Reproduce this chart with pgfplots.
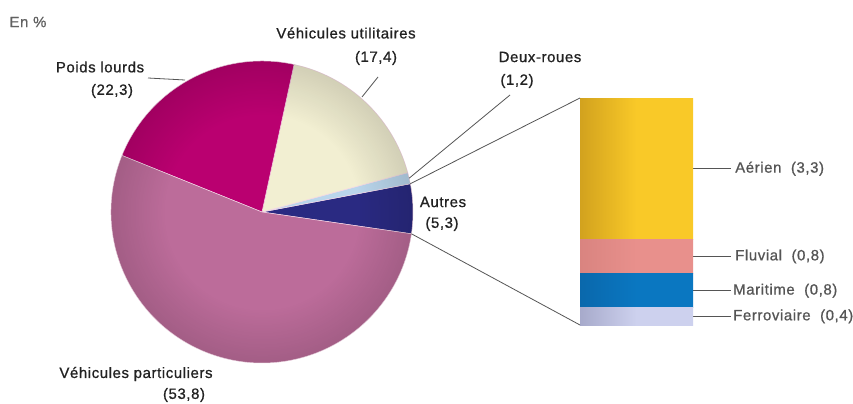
\documentclass[border=0pt]{standalone}
\usepackage{pgfplots}
\pgfplotsset{compat=1.18}
\usepackage{pgfplotstable}
\usepackage{fontspec}
\setmainfont{Liberation Sans}[LetterSpace=4, FakeBold=0.8]
\usetikzlibrary{fadings}

\definecolor{txt}{HTML}{222222}
\definecolor{lead}{HTML}{555555}
\definecolor{vp}{HTML}{BC6C9A}
\definecolor{pl}{HTML}{BA0070}
\definecolor{vu}{HTML}{F2EFD2}
\definecolor{dr}{HTML}{BAD6EC}
\definecolor{au}{HTML}{2A2A82}
\definecolor{edge}{HTML}{F4D6E6}
\definecolor{aer}{HTML}{F9C928}
\definecolor{aerd}{HTML}{D2A21E}
\definecolor{flu}{HTML}{E8908C}
\definecolor{flud}{HTML}{D98480}
\definecolor{mar}{HTML}{0A77C1}
\definecolor{mard}{HTML}{0A68AC}
\definecolor{fer}{HTML}{CDD1EE}
\definecolor{ferd}{HTML}{A7AACB}

% Transport CO2 shares (%), counter-clockwise from the right
\pgfplotstableread{
name value col
Autres 5.3 au
Deux 1.2 dr
Util 17.4 vu
Lourds 22.3 pl
Part 53.8 vp
}\piedata

% radial darkening towards the rim of the pie
\pgfdeclareradialshading{pieglowshade}{\pgfpoint{0bp}{0bp}}{%
  color(0bp)=(pgftransparent!100); color(16bp)=(pgftransparent!100);
  color(50bp)=(pgftransparent!50)}
\pgfdeclarefading{pieglow}{\pgfuseshading{pieglowshade}}

\tikzset{leader/.style={lead, line width=0.8bp}}

\begin{document}
\begin{tikzpicture}[x=1bp, y=1bp, font=\fontsize{15}{18}\selectfont, text=txt]
\path[use as bounding box, fill=white] (0,0) rectangle (853,403);
\node[anchor=west, text=black!62] at (6,381) {En \%};

% ---------------- pie ----------------
\begin{axis}[name=pie, hide axis, scale only axis,
  x=1bp, y=1bp, xmin=-160, xmax=160, ymin=-160, ymax=160,
  at={(262bp,191bp)}, anchor=center, clip=false]
\gdef\cum{-8.3}
\pgfplotsinvokeforeach{0,...,4}{%
  \pgfplotstablegetelem{#1}{value}\of\piedata \let\slv\pgfplotsretval
  \pgfplotstablegetelem{#1}{col}\of\piedata \let\slc\pgfplotsretval
  \pgfmathsetmacro\sla{\cum}%
  \pgfmathsetmacro\slb{\cum+3.6*\slv}%
  \expandafter\xdef\csname angA#1\endcsname{\sla}%
  \expandafter\xdef\csname angB#1\endcsname{\slb}%
  \edef\slice{\noexpand\fill[\slc, draw=edge, line width=0.5bp]
    (axis cs:0,0) -- (axis cs:{151*cos(\sla)},{151*sin(\sla)})
    arc[start angle=\sla, end angle=\slb, radius=151bp] -- cycle;}%
  \slice
  \xdef\cum{\slb}%
}
\fill[black, path fading=pieglow, fit fading=true] (axis cs:0,0) circle[radius=151bp];

\pgfmathsetmacro\drmid{(\csname angA1\endcsname+\csname angB1\endcsname)/2}
\xdef\drmid{\drmid}
\coordinate (autTop) at (axis cs:{151*cos(\csname angB0\endcsname)},{151*sin(\csname angB0\endcsname)});
\coordinate (autBot) at (axis cs:{151*cos(\csname angA0\endcsname)},{151*sin(\csname angA0\endcsname)});

% leaders and labels
\draw[leader] (axis cs:-114,134) -- (axis cs:-77,132);
\draw[leader] (axis cs:116,135) -- (axis cs:100,115);
\draw[leader] (axis cs:{151*cos(\drmid)},{151*sin(\drmid)}) -- (axis cs:248,117);

\node at (axis cs:-162,145) {Poids lourds};
\node at (axis cs:-150,121) {(22,3)};
\node at (axis cs:84,179) {Véhicules utilitaires};
\node at (axis cs:114,154) {(17,4)};
\node at (axis cs:278,155) {Deux-roues};
\node at (axis cs:255,131) {(1,2)};
\node at (axis cs:181,10) {Autres};
\node at (axis cs:180,-12) {(5,3)};
\node at (axis cs:-126,-162) {Véhicules particuliers};
\node at (axis cs:-78,-183) {(53,8)};
\end{axis}

% ---------------- breakdown of "Autres" ----------------
\begin{axis}[name=bar, hide axis, scale only axis,
  width=113bp, height=227bp, at={(580bp,78bp)}, anchor=south west,
  ybar stacked, bar width=113bp, xmin=-0.5, xmax=0.5, ymin=0, ymax=5.3,
  clip=false]
\addplot[draw=none, left color=ferd, right color=fer, middle color=fer] coordinates {(0,0.4)};
\addplot[draw=none, left color=mard, right color=mar, middle color=mar] coordinates {(0,0.8)};
\addplot[draw=none, left color=flud, right color=flu, middle color=flu] coordinates {(0,0.8)};
\addplot[draw=none, left color=aerd, right color=aer, middle color=aer] coordinates {(0,3.3)};

\coordinate (barTop) at (axis cs:-0.5,5.3);
\coordinate (barBot) at (axis cs:-0.5,0);

% segment midpoints: 0.2, 0.8, 1.6, 3.65
\draw[leader] (axis cs:0.5,3.65) -- (axis cs:0.835,3.65) node[anchor=west, inner sep=4bp] {Aérien\ \ (3,3)};
\draw[leader] (axis cs:0.5,1.6) -- (axis cs:0.835,1.6) node[anchor=west, inner sep=4bp] {Fluvial\ \ (0,8)};
\draw[leader] (axis cs:0.5,0.8) -- (axis cs:0.835,0.8) node[anchor=west, inner sep=2bp] {Maritime\ \ (0,8)};
\draw[leader] (axis cs:0.5,0.2) -- (axis cs:0.835,0.2) node[anchor=west, inner sep=2bp] {Ferroviaire\ \ (0,4)};
\end{axis}

% connectors from the "Autres" slice to the breakdown bar
\draw[leader] (autTop) -- (barTop);
\draw[leader] (autBot) -- (barBot);
\end{tikzpicture}
\end{document}
